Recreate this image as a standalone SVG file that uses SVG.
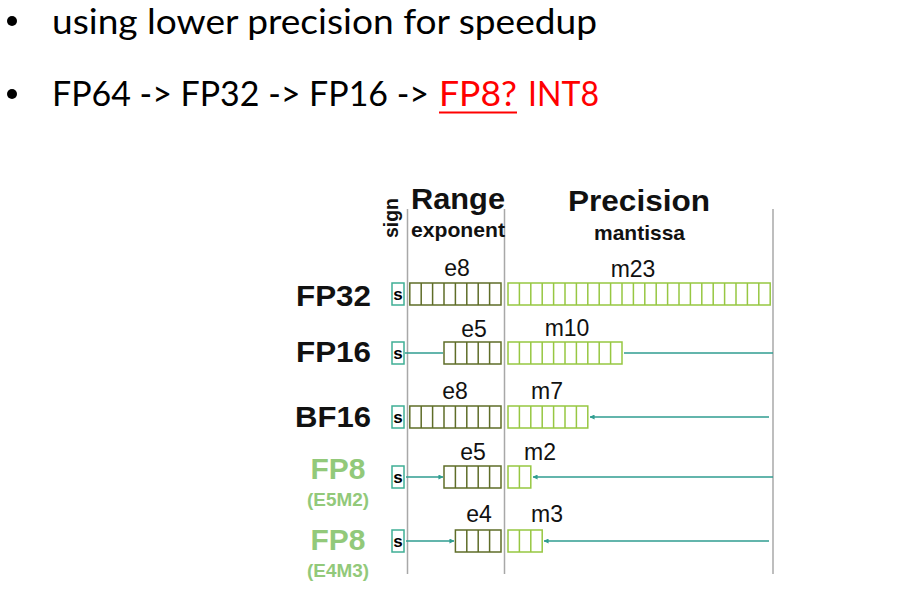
<svg xmlns="http://www.w3.org/2000/svg" width="916" height="593" viewBox="0 0 916 593">
<style>
.bul{font-family:Lato,"Liberation Sans",sans-serif;font-size:35px;fill:#000}
.red{fill:#ff0000}
.hdr{font-family:"Liberation Sans",Arial,sans-serif;font-weight:bold;fill:#111}
.lbl{font-family:"Liberation Sans",Arial,sans-serif;font-weight:bold;font-size:30px;fill:#111;text-anchor:end}
.g8{font-family:"Liberation Sans",Arial,sans-serif;font-weight:bold;fill:#92c97a;text-anchor:middle}
.num{font-family:"Liberation Sans",Arial,sans-serif;font-size:23px;fill:#111;text-anchor:middle}
.ex{fill:none;stroke:#5f6d28;stroke-width:1.5}
.ma{fill:none;stroke:#97c742;stroke-width:1.5}
.sb{fill:#fff;stroke:#3fae95;stroke-width:1.5}
.st{font-family:"Liberation Sans",Arial,sans-serif;font-weight:bold;font-size:17px;fill:#000;text-anchor:middle}
.vl{stroke:#a8a8a8;stroke-width:1.5}
.cn{stroke:#2f9d90;stroke-width:1.5;fill:none}
</style>
<defs>
<marker id="ah" viewBox="0 0 6 6" refX="5.5" refY="3" markerWidth="5" markerHeight="5" orient="auto" markerUnits="userSpaceOnUse">
<path d="M0,0 L6,3 L0,6 z" fill="#2f9d90"/>
</marker>
</defs>
<rect width="916" height="593" fill="#fff"/>

<g id="bullets">
<circle cx="12" cy="21" r="5" fill="#000"/>
<text class="bul" x="52" y="34" textLength="545" lengthAdjust="spacingAndGlyphs">using lower precision for speedup</text>
<circle cx="12" cy="94" r="5" fill="#000"/>
<text class="bul" x="52" y="106" textLength="377" lengthAdjust="spacingAndGlyphs">FP64 -&gt; FP32 -&gt; FP16 -&gt;</text>
<text class="bul red" x="439" y="106" textLength="78" lengthAdjust="spacingAndGlyphs">FP8?</text>
<text class="bul red" x="528" y="106" textLength="71" lengthAdjust="spacingAndGlyphs">INT8</text>
<line x1="439" y1="112.5" x2="517" y2="112.5" stroke="#ff0000" stroke-width="2"/>
</g>

<g id="headers">
<line class="vl" x1="407.5" y1="209" x2="407.5" y2="574"/>
<line class="vl" x1="504.5" y1="209" x2="504.5" y2="574"/>
<line class="vl" x1="773" y1="209" x2="773" y2="574"/>
<text class="hdr" font-size="21" text-anchor="middle" transform="translate(398,218) rotate(-90)" textLength="40" lengthAdjust="spacingAndGlyphs">sign</text>
<text class="hdr" font-size="30" x="411" y="209" textLength="94" lengthAdjust="spacingAndGlyphs">Range</text>
<text class="hdr" font-size="21" x="411" y="237" textLength="94" lengthAdjust="spacingAndGlyphs">exponent</text>
<text class="hdr" font-size="30" x="568" y="211" textLength="142" lengthAdjust="spacingAndGlyphs">Precision</text>
<text class="hdr" font-size="21" x="594" y="240" textLength="91" lengthAdjust="spacingAndGlyphs">mantissa</text>
</g>

<g id="fp32">
<text class="lbl" x="371" y="306" textLength="75" lengthAdjust="spacingAndGlyphs">FP32</text>
<rect class="sb" x="392" y="283" width="12" height="22"/>
<text class="st" x="398" y="300">s</text>
<path class="ex" d="M409.8,283h91.2v22h-91.2z M421.2,283v22 M432.6,283v22 M444,283v22 M455.4,283v22 M466.8,283v22 M478.2,283v22 M489.6,283v22"/>
<path class="ma" d="M508,283h262.2v22h-262.2z M519.4,283v22 M530.8,283v22 M542.2,283v22 M553.6,283v22 M565,283v22 M576.4,283v22 M587.8,283v22 M599.2,283v22 M610.6,283v22 M622,283v22 M633.4,283v22 M644.8,283v22 M656.2,283v22 M667.6,283v22 M679,283v22 M690.4,283v22 M701.8,283v22 M713.2,283v22 M724.6,283v22 M736,283v22 M747.4,283v22 M758.8,283v22"/>
<text class="num" x="457" y="276">e8</text>
<text class="num" x="633" y="277">m23</text>
</g>

<g id="fp16">
<text class="lbl" x="371" y="362" textLength="75" lengthAdjust="spacingAndGlyphs">FP16</text>
<rect class="sb" x="392" y="342" width="12" height="22"/>
<text class="st" x="398" y="359">s</text>
<path class="ex" d="M444,342h57v22h-57z M455.4,342v22 M466.8,342v22 M478.2,342v22 M489.6,342v22"/>
<path class="ma" d="M508,342h114v22h-114z M519.4,342v22 M530.8,342v22 M542.2,342v22 M553.6,342v22 M565,342v22 M576.4,342v22 M587.8,342v22 M599.2,342v22 M610.6,342v22"/>
<text class="num" x="474" y="337">e5</text>
<text class="num" x="567" y="336">m10</text>
</g>

<g id="bf16">
<text class="lbl" x="371" y="427" textLength="76" lengthAdjust="spacingAndGlyphs">BF16</text>
<rect class="sb" x="392" y="406" width="12" height="22"/>
<text class="st" x="398" y="423">s</text>
<path class="ex" d="M409.8,406h91.2v22h-91.2z M421.2,406v22 M432.6,406v22 M444,406v22 M455.4,406v22 M466.8,406v22 M478.2,406v22 M489.6,406v22"/>
<path class="ma" d="M508,406h79.8v22h-79.8z M519.4,406v22 M530.8,406v22 M542.2,406v22 M553.6,406v22 M565,406v22 M576.4,406v22"/>
<text class="num" x="455" y="399">e8</text>
<text class="num" x="547" y="399">m7</text>
</g>

<g id="fp8-e5m2">
<text class="g8" font-size="30" x="338" y="479" textLength="55" lengthAdjust="spacingAndGlyphs">FP8</text>
<text class="g8" font-size="19" x="338" y="506" textLength="62" lengthAdjust="spacingAndGlyphs">(E5M2)</text>
<rect class="sb" x="392" y="466" width="12" height="22"/>
<text class="st" x="398" y="483">s</text>
<path class="ex" d="M444,466h57v22h-57z M455.4,466v22 M466.8,466v22 M478.2,466v22 M489.6,466v22"/>
<path class="ma" d="M508,466h22.8v22h-22.8z M519.4,466v22"/>
<text class="num" x="473" y="460">e5</text>
<text class="num" x="540" y="460">m2</text>
</g>

<g id="fp8-e4m3">
<text class="g8" font-size="30" x="338" y="550" textLength="55" lengthAdjust="spacingAndGlyphs">FP8</text>
<text class="g8" font-size="19" x="338" y="577" textLength="62" lengthAdjust="spacingAndGlyphs">(E4M3)</text>
<rect class="sb" x="392" y="530" width="12" height="22"/>
<text class="st" x="398" y="547">s</text>
<path class="ex" d="M455.4,530h45.6v22h-45.6z M466.8,530v22 M478.2,530v22 M489.6,530v22"/>
<path class="ma" d="M508,530h34.2v22h-34.2z M519.4,530v22 M530.8,530v22"/>
<text class="num" x="479" y="522">e4</text>
<text class="num" x="547" y="522">m3</text>
</g>

<g id="connectors">
<line class="cn" x1="405" y1="353" x2="443" y2="353"/>
<line class="cn" x1="624" y1="353" x2="773" y2="353"/>
<line class="cn" x1="769" y1="417" x2="590" y2="417" marker-end="url(#ah)"/>
<line class="cn" x1="406" y1="477" x2="443" y2="477" marker-end="url(#ah)"/>
<line class="cn" x1="773" y1="477" x2="533" y2="477" marker-end="url(#ah)"/>
<line class="cn" x1="406" y1="541" x2="454" y2="541" marker-end="url(#ah)"/>
<line class="cn" x1="769" y1="541" x2="544" y2="541" marker-end="url(#ah)"/>
</g>
</svg>
